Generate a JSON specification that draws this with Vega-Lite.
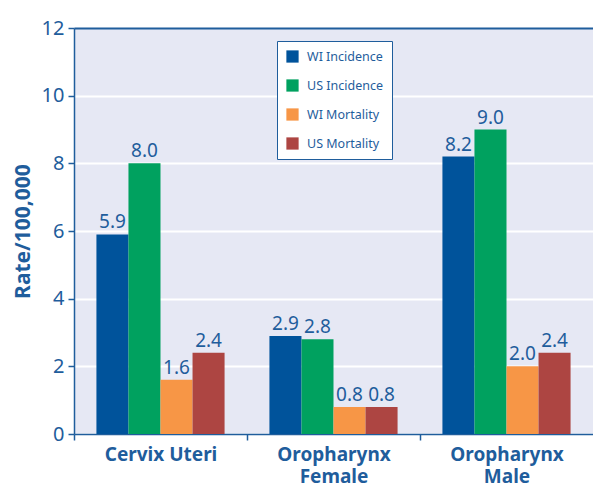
{
  "$schema": "https://vega.github.io/schema/vega-lite/v6.json",
  "autosize": "none",
  "padding": {"left": 74, "top": 28, "right": 0, "bottom": 55},
  "width": 519,
  "height": 406,
  "background": "white",
  "config": {
    "font": "Noto Sans",
    "view": {"fill": "#e6e8f4", "stroke": null}
  },
  "data": {
    "values": [
      {"site": "Cervix Uteri", "measure": "WI Incidence", "rate": 5.9},
      {"site": "Cervix Uteri", "measure": "US Incidence", "rate": 8.0},
      {"site": "Cervix Uteri", "measure": "WI Mortality", "rate": 1.6},
      {"site": "Cervix Uteri", "measure": "US Mortality", "rate": 2.4},
      {"site": "Oropharynx Female", "measure": "WI Incidence", "rate": 2.9},
      {"site": "Oropharynx Female", "measure": "US Incidence", "rate": 2.8},
      {"site": "Oropharynx Female", "measure": "WI Mortality", "rate": 0.8},
      {"site": "Oropharynx Female", "measure": "US Mortality", "rate": 0.8},
      {"site": "Oropharynx Male", "measure": "WI Incidence", "rate": 8.2},
      {"site": "Oropharynx Male", "measure": "US Incidence", "rate": 9.0},
      {"site": "Oropharynx Male", "measure": "WI Mortality", "rate": 2.0},
      {"site": "Oropharynx Male", "measure": "US Mortality", "rate": 2.4}
    ]
  },
  "encoding": {
    "x": {
      "field": "site", "type": "nominal", "sort": null,
      "scale": {"paddingInner": 0, "paddingOuter": 0},
      "axis": {
        "title": null,
        "labelAngle": 0,
        "labelFontSize": 19,
        "labelFontWeight": "bold",
        "labelColor": "#1f5d9c",
        "labelPadding": 5,
        "labelLineHeight": 22,
        "labelBaseline": "top",
        "labelExpr": "datum.value == 'Cervix Uteri' ? datum.value : split(datum.value, ' ')",
        "domainColor": "#1f5d9c",
        "domainWidth": 1.5,
        "tickColor": "#1f5d9c",
        "tickWidth": 1.5,
        "tickSize": 6,
        "tickOffset": -86.5,
        "labelOffset": 86.5
      }
    },
    "xOffset": {
      "field": "measure", "type": "nominal", "sort": ["WI Incidence", "US Incidence", "WI Mortality", "US Mortality"],
      "scale": {"paddingInner": 0, "paddingOuter": 0.7}
    },
    "y": {
      "field": "rate", "type": "quantitative",
      "scale": {"domain": [0, 12], "nice": false},
      "axis": {
        "title": "Rate/100,000",
        "titleFontSize": 21,
        "titleFontWeight": "bold",
        "titleColor": "#1f5d9c",
        "titlePadding": 8,
        "values": [0, 2, 4, 6, 8, 10, 12],
        "labelFontSize": 20,
        "labelColor": "#1f5d9c",
        "labelPadding": 4,
        "domainColor": "#1f5d9c",
        "domainWidth": 1.5,
        "tickColor": "#1f5d9c",
        "tickWidth": 1.5,
        "tickSize": 6,
        "grid": true,
        "gridColor": {"condition": {"test": "datum.value === 12", "value": "#1f5d9c"}, "value": "white"},
        "gridWidth": 2
      }
    }
  },
  "layer": [
    {
      "mark": {"type": "bar"},
      "encoding": {
        "color": {
          "field": "measure", "type": "nominal",
          "sort": ["WI Incidence", "US Incidence", "WI Mortality", "US Mortality"],
          "scale": {
            "domain": ["WI Incidence", "US Incidence", "WI Mortality", "US Mortality"],
            "range": ["#00539b", "#00a15f", "#f79646", "#ad4542"]
          },
          "legend": {
            "title": null,
            "orient": "none",
            "legendX": 203,
            "legendY": 13,
            "symbolType": "square",
            "symbolSize": 150,
            "symbolStrokeWidth": 0,
            "labelFontSize": 12.5,
            "labelColor": "#1f5d9c",
            "rowPadding": 16,
            "padding": 9,
            "fillColor": "white",
            "strokeColor": "#1f5d9c",
            "labelOffset": 8
          }
        }
      }
    },
    {
      "mark": {"type": "text", "baseline": "alphabetic", "dy": -6, "fontSize": 19, "color": "#1f5d9c"},
      "encoding": {
        "text": {"field": "rate", "type": "quantitative", "format": ".1f"}
      }
    }
  ]
}
